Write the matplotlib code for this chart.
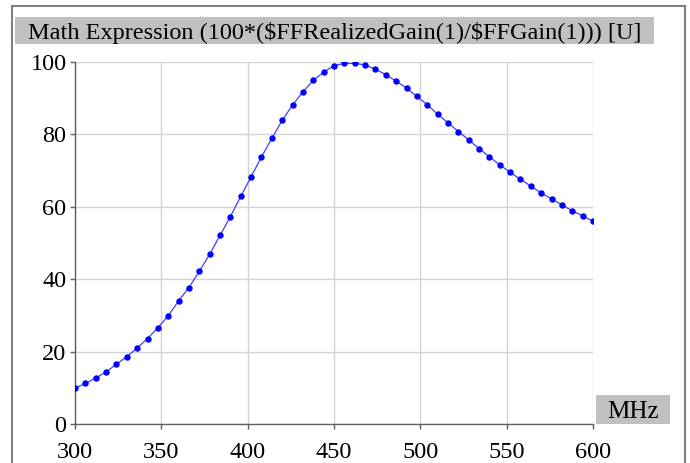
import matplotlib
matplotlib.use("Agg")
import numpy as np
from matplotlib import pyplot as plt
from matplotlib.patches import Rectangle
from matplotlib.lines import Line2D

plt.rcParams["font.family"] = ["Liberation Serif", "DejaVu Serif"]
plt.rcParams["text.parse_math"] = False

# frequency sweep, MHz
freq = np.arange(300, 601, 6)
# 100 * realized gain / gain
ratio = [
    9.9, 11.2, 12.7, 14.4, 16.5, 18.6, 21.0, 23.6, 26.6, 29.9,
    34.0, 37.7, 42.2, 46.9, 52.1, 57.3, 62.9, 68.3, 73.8, 78.9,
    83.9, 88.1, 91.8, 94.9, 97.2, 99.0, 99.6, 99.6, 99.2, 98.0,
    96.5, 94.7, 92.8, 90.5, 88.2, 85.6, 83.2, 80.8, 78.5, 76.1,
    73.8, 71.6, 69.5, 67.6, 65.7, 63.8, 62.2, 60.5, 58.9, 57.5,
    56.0,
]
x_ticks = [300, 350, 400, 450, 500, 550, 600]
y_ticks = [0, 20, 40, 60, 80, 100]
title = "Math Expression (100*($FFRealizedGain(1)/$FFGain(1))) [U]"
x_unit = "MHz"

W, H = 690, 463
fig = plt.figure(figsize=(W / 100, H / 100), dpi=100)
ax = fig.add_axes([75 / W, 1 - 424 / H, 518 / W, 362 / H])

ax.plot(freq, ratio, color="#4040ff", lw=0.9, zorder=3)
ax.plot(freq, ratio, ls="none", marker="o", ms=3.6, color="#0000ff",
        mec="#0000ff", zorder=4)

ax.set_xlim(300, 600)
ax.set_ylim(0, 100)
ax.set_xticks(x_ticks)
ax.set_yticks(y_ticks)
ax.grid(True, color="#d4d4d4", lw=1)
ax.set_axisbelow(True)
for s in ("top", "right"):
    ax.spines[s].set_visible(False)
for s in ("left", "bottom"):
    ax.spines[s].set_color("#606060")
    ax.spines[s].set_linewidth(1)
ax.tick_params(length=3.6, width=1, color="#606060", labelsize=17.5,
               labelcolor="black")
ax.tick_params(axis="x", pad=9)
ax.tick_params(axis="y", pad=2.5)

# title box
fig.add_artist(Rectangle((15 / W, 1 - 44 / H), 639 / W, 27 / H,
                         transform=fig.transFigure, facecolor="#c0c0c0",
                         edgecolor="none"))
fig.text(28 / W, 1 - 39 / H, title, fontsize=17.5, va="baseline", ha="left")

# unit box
fig.add_artist(Rectangle((596 / W, 1 - 424 / H), 74 / W, 29 / H,
                         transform=fig.transFigure, facecolor="#c0c0c0",
                         edgecolor="none"))
fig.text(633 / W, 1 - 417.5 / H, x_unit, fontsize=18, va="baseline",
         ha="center")

# outer frame
fc = "#808080"
fig.add_artist(Line2D([12 / W, 12 / W], [0, 1 - 6 / H], color=fc, lw=1.5,
                      transform=fig.transFigure))
fig.add_artist(Line2D([12 / W, 685 / W], [1 - 6 / H, 1 - 6 / H], color=fc,
                      lw=1.5, transform=fig.transFigure))
fig.add_artist(Line2D([685 / W, 685 / W], [0, 1 - 6 / H], color=fc, lw=1.5,
                      transform=fig.transFigure))

fig.savefig("out.png", dpi=100)
